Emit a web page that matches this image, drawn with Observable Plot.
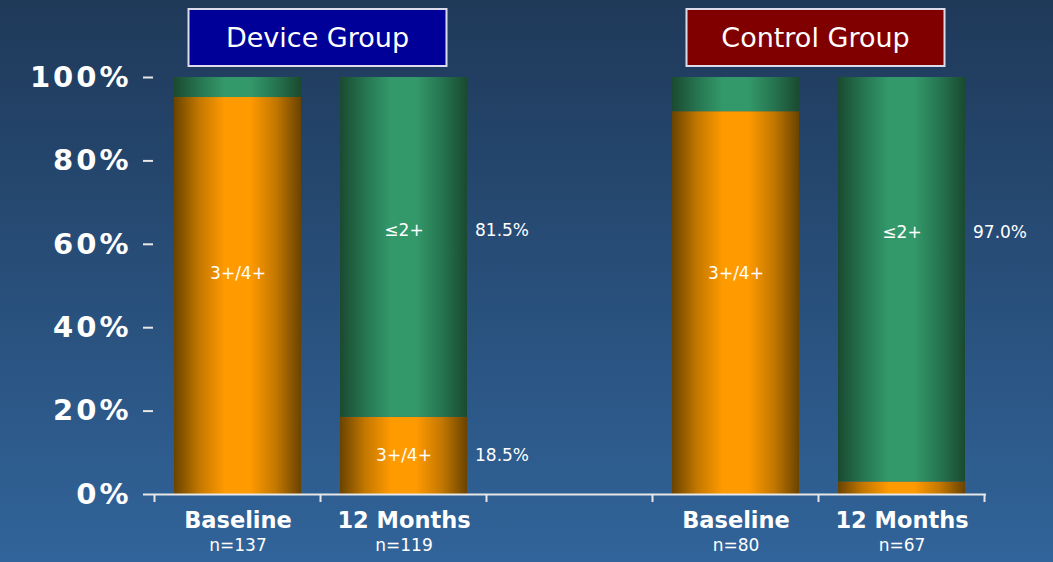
<!DOCTYPE html>
<html><head><meta charset="utf-8">
<script src="https://cdn.jsdelivr.net/npm/d3@7"></script>
<script src="https://cdn.jsdelivr.net/npm/@observablehq/plot@0.6"></script>
<style>
html,body{margin:0;padding:0;background:#284b76;}
#chart{width:1053px;height:562px;background:linear-gradient(#1f3959,#31649a);}
#chart svg{display:block;}
</style></head><body><div id="chart"></div>
<script>
// ---- data ----
const categories = ["Device Baseline", "Device 12 Months", "gap", "Control Baseline", "Control 12 Months"];
const xLabels = ["Baseline", "12 Months", "", "Baseline", "12 Months"];
const nLabels = ["n=137", "n=119", "", "n=80", "n=67"];
const bars = ["Device Baseline", "Device 12 Months", "Control Baseline", "Control 12 Months"];
const severe = [95.2, 18.5, 91.8, 3.0];   // 3+/4+ (%)
const mild = [4.8, 81.5, 8.2, 97.0];      // ≤2+ (%)
const insideBar = ["Device Baseline", "Device 12 Months", "Device 12 Months", "Control Baseline", "Control 12 Months"];
const insideText = ["3+/4+", "≤2+", "3+/4+", "3+/4+", "≤2+"];
const insideY = [53, 63.3, 9.3, 53, 62.8];
const pctBar = ["Device 12 Months", "Device 12 Months", "Control 12 Months"];
const pctText = ["81.5%", "18.5%", "97.0%"];
const pctY = [63.3, 9.3, 62.8];
const groups = ["Device Group", "Control Group"];
const groupFirst = ["Device Baseline", "Control Baseline"];
const groupLast = ["Device 12 Months", "Control 12 Months"];
const groupColors = ["#000099", "#800000"];
const yTicks = [0, 20, 40, 60, 80, 100];

const W = 1053, H = 562;
const rows = bars.map((b, i) => ({bar: b, severe: severe[i], mild: mild[i]}));
const font = "DejaVu Sans, Verdana, sans-serif";

const plot = Plot.plot({
  width: W, height: H,
  marginTop: 77, marginBottom: 68, marginLeft: 153, marginRight: 67,
  style: {background: "transparent", fontFamily: font, color: "white", overflow: "visible"},
  x: {type: "band", domain: categories, paddingInner: 0.232, paddingOuter: 0.116, axis: null},
  y: {domain: [0, 100], axis: null},
  marks: [
    Plot.barY(rows, {x: "bar", y1: 0, y2: "severe", fill: "url(#gOrange)"}),
    Plot.barY(rows, {x: "bar", y1: "severe", y2: d => d.severe + d.mild, fill: "url(#gGreen)"}),
    Plot.axisY({ticks: yTicks, tickFormat: d => d + "%", tickSize: 10, tickPadding: 12, label: null,
      stroke: "#e8e8e8", strokeWidth: 2, fill: "white", fontSize: 29, fontWeight: "bold", anchor: "left"}),
    Plot.ruleX([0], {frameAnchor: "left", stroke: "#e8e8e8", strokeWidth: 2, y1: 0, y2: 100}),
    Plot.ruleY([0], {stroke: "#e8e8e8", strokeWidth: 2}),
    Plot.text(insideText, {x: insideBar, y: insideY, text: d => d, fill: "white", fontSize: 17}),
    Plot.text(pctText, {x: pctBar, y: pctY, text: d => d, fill: "white", fontSize: 17, textAnchor: "start", dx: 71}),
    Plot.text(categories, {x: d => d, text: xLabels, frameAnchor: "bottom", dy: 33, fill: "white", fontSize: 22.5, fontWeight: "bold"}),
    Plot.text(categories, {x: d => d, text: nLabels, frameAnchor: "bottom", dy: 56, fill: "white", fontSize: 17})
  ]
});

const svg = d3.select(plot);
// wider, Verdana-like tick labels
svg.selectAll("[aria-label='y-axis tick label'] text").attr("letter-spacing", "3px");
const defs = svg.insert("defs", ":first-child");
function grad(id, edge, mid, peak) {
  const g = defs.append("linearGradient").attr("id", id).attr("x1", 0).attr("x2", 1).attr("y1", 0).attr("y2", 0);
  [[0, edge], [0.2, mid], [0.4, peak], [0.6, peak], [0.8, mid], [1, edge]].forEach(([o, c]) =>
    g.append("stop").attr("offset", o).attr("stop-color", c));
}
grad("gOrange", "#6a4300", "#c47800", "#ff9a00");
grad("gGreen", "#1a4a30", "#267550", "#33996a");

const xs = plot.scale("x");
const ys = plot.scale("y");
const gapHalf = (xs.step - xs.bandwidth) / 2;
const y0 = ys.apply(0);
// x-axis category boundary ticks
const bounds = categories.map(c => xs.apply(c) - gapHalf).concat([xs.apply(categories[categories.length - 1]) + xs.bandwidth + gapHalf]);
svg.append("g").selectAll("line").data(bounds).join("line")
  .attr("x1", d => d).attr("x2", d => d).attr("y1", y0).attr("y2", y0 + 8)
  .attr("stroke", "#e8e8e8").attr("stroke-width", 2);

// group title boxes
groups.forEach((g, i) => {
  const cx = (xs.apply(groupFirst[i]) + xs.apply(groupLast[i]) + xs.bandwidth) / 2 - 3;
  const bw = 258, top = 9, bh = 57;
  svg.append("rect").attr("x", cx - bw / 2).attr("y", top).attr("width", bw).attr("height", bh)
    .attr("fill", groupColors[i]).attr("stroke", "#dcdcec").attr("stroke-width", 2);
  svg.append("text").attr("x", cx).attr("y", top + bh / 2).attr("dy", "0.35em")
    .attr("text-anchor", "middle").attr("fill", "white").attr("font-size", 27)
    .attr("font-family", font).text(g);
});

document.getElementById("chart").appendChild(plot);
</script>
</body></html>
